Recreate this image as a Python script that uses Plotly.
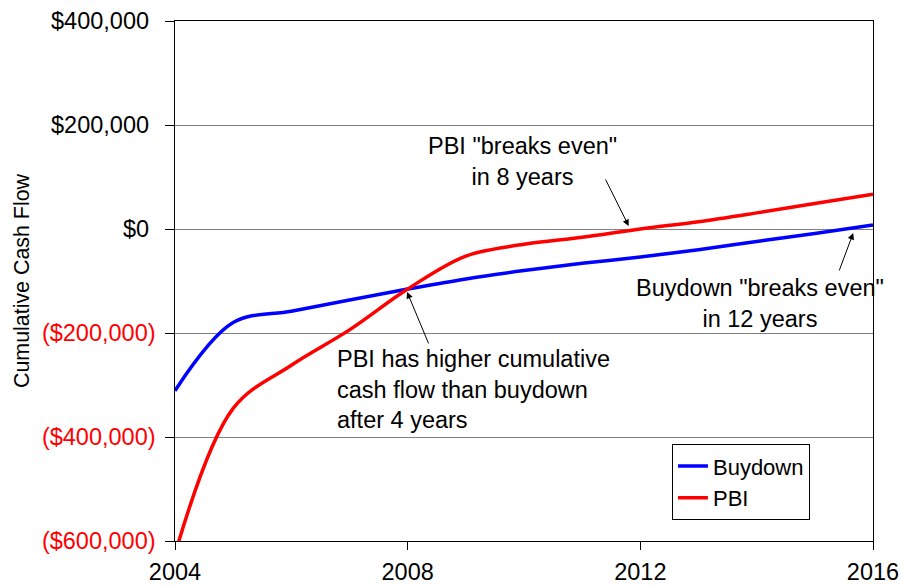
import plotly.graph_objects as go

years = list(range(2004, 2017))
buydown = [-311000, -180000, -158000, -136500, -115500, -96000, -80000,
           -66000, -54000, -40000, -24000, -8500, 7700]
pbi = [-625000, -345000, -262000, -194000, -115500, -52000, -29500,
       -16000, 0, 14000, 31000, 49000, 66700]

PAD = "\u2008\u2009"
NPAD = "\u2009"
y_ticks = [400000, 200000, 0, -200000, -400000, -600000]
y_labels = ["$400,000" + PAD, "$200,000" + PAD, "$0" + PAD,
            '<span style="color:#ff0000">($200,000)</span>' + NPAD,
            '<span style="color:#ff0000">($400,000)</span>' + NPAD,
            '<span style="color:#ff0000">($600,000)</span>' + NPAD]
x_ticks = [2004, 2008, 2012, 2016]

FONT = "Liberation Sans, Arial, sans-serif"
FS = 23.5

fig = go.Figure()
fig.add_trace(go.Scatter(x=years, y=buydown, mode="lines", name="Buydown",
                         line=dict(color="#0000ff", width=3.5, shape="spline", smoothing=1.0)))
fig.add_trace(go.Scatter(x=years, y=pbi, mode="lines", name="PBI",
                         line=dict(color="#ff0000", width=3.5, shape="spline", smoothing=1.0)))

# text annotations
fig.add_annotation(x=2009.98, y=129800, xref="x", yref="y",
                   text='PBI "breaks even"<br>in 8 years', showarrow=False,
                   align="center", font=dict(size=FS, color="black", family=FONT))
fig.add_annotation(x=2014.06, y=-143300, xref="x", yref="y",
                   text='Buydown "breaks even"<br>in 12 years', showarrow=False,
                   align="center", font=dict(size=FS, color="black", family=FONT))
fig.add_annotation(x=2006.75, y=-308600, xref="x", yref="y", xanchor="left",
                   text='PBI has higher cumulative<br>cash flow than buydown<br>after 4 years',
                   showarrow=False, align="left",
                   font=dict(size=FS, color="black", family=FONT))

# arrows
arrows = [
    ((2011.80, 5770), (2011.39, 98000)),
    ((2015.66, -7700), (2015.41, -82700)),
    ((2007.99, -121000), (2008.37, -223000)),
]
for (tx, ty), (ax, ay) in arrows:
    fig.add_annotation(x=tx, y=ty, ax=ax, ay=ay, xref="x", yref="y",
                       axref="x", ayref="y", text="", showarrow=True,
                       arrowhead=2, arrowsize=1.3, arrowwidth=1, arrowcolor="black")

fig.update_layout(
    width=904, height=586,
    margin=dict(l=175, r=31, t=21, b=45),
    paper_bgcolor="white", plot_bgcolor="white",
    font=dict(family=FONT, size=FS, color="black"),
    showlegend=True,
    legend=dict(x=0.712, y=0.186, xanchor="left", yanchor="top",
                bgcolor="white", bordercolor="black", borderwidth=1,
                font=dict(size=22, family=FONT), tracegroupgap=0,
                itemwidth=30),
)
fig.update_xaxes(range=[2004, 2016], tickvals=x_ticks, ticktext=[str(v) for v in x_ticks],
                 showgrid=False, zeroline=False, showline=True, linecolor="black",
                 linewidth=1, mirror=True, ticks="outside", ticklen=8, tickcolor="black",
                 tickfont=dict(size=FS, family=FONT), automargin=False,
                 ticklabelstandoff=2)
fig.update_yaxes(range=[-600000, 400000], tickvals=y_ticks, ticktext=y_labels,
                 showgrid=True, gridcolor="#808080", gridwidth=1, zeroline=False,
                 showline=True, linecolor="black", linewidth=1, mirror=True,
                 ticks="outside", ticklen=9, tickcolor="black",
                 tickfont=dict(size=FS, family=FONT), automargin=False,
                 title=dict(text="Cumulative Cash Flow", font=dict(size=21.4, family=FONT),
                            standoff=6))

fig.write_html("out.html", config={"displayModeBar": False},
               post_script="document.body.style.margin='0';document.body.style.overflow='hidden';")
